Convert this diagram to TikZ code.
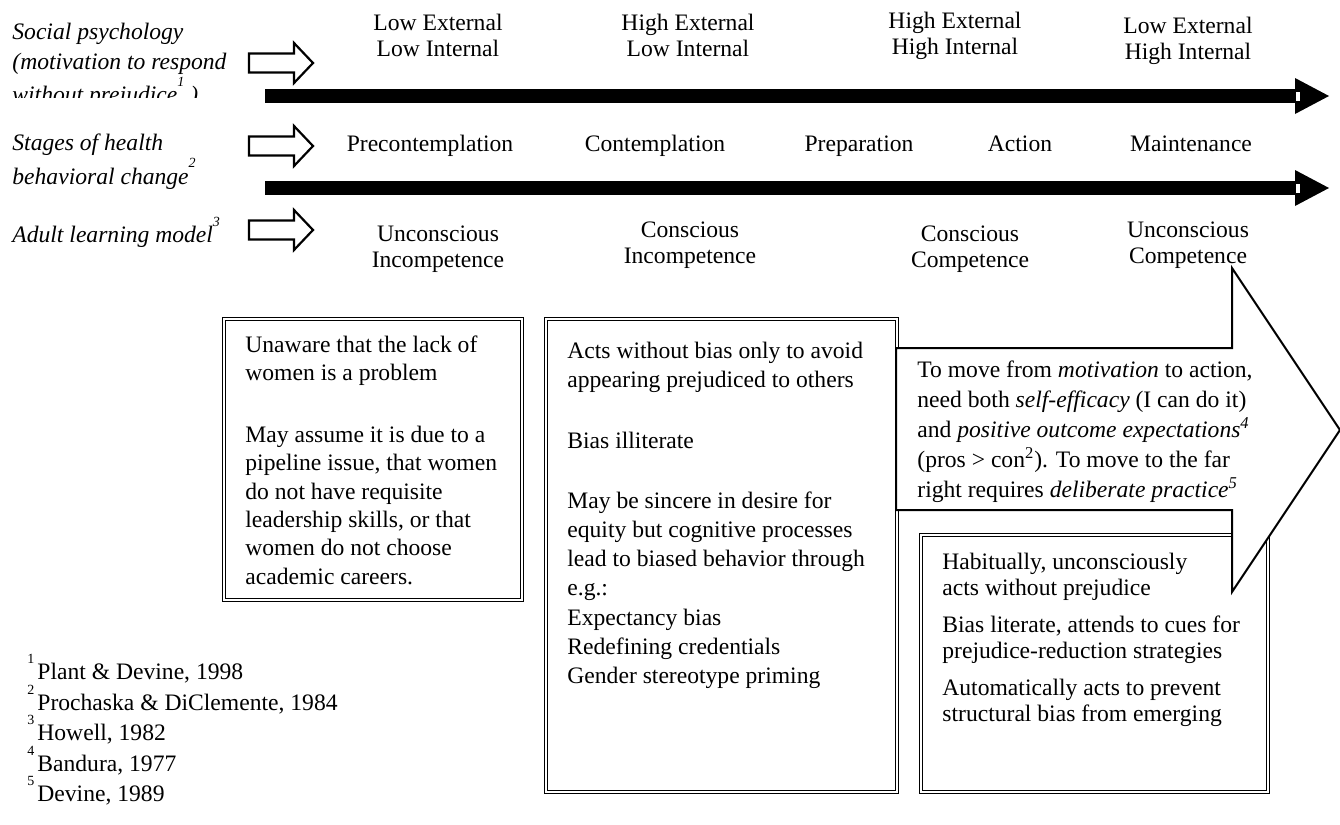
\documentclass[tikz,border=0pt]{standalone}
\usepackage{fontspec}
\setmainfont{Liberation Serif}
\usepackage{tikz}

\newcommand{\fnmark}[1]{\smash{\raisebox{1.5ex}{\scriptsize #1}}}

\begin{document}
\begin{tikzpicture}[x=0.5pt, y=-0.5pt,
    every node/.style={inner sep=0pt, font=\fontsize{11.8}{13}\selectfont},
    stage/.style={align=center, anchor=north},
    onestage/.style={anchor=base},
    modelname/.style={align=left, anchor=north west, font=\fontsize{11.8}{15}\selectfont\itshape},
    boxtext/.style={align=left, anchor=north west},
    dblbox/.style={draw, double, double distance=1pt, line width=0.7pt},
    openarrow/.style={draw, line width=1.1pt, fill=white, line join=miter},
    bigarrow/.style={draw, line width=1pt, fill=white, line join=miter}]
    \useasboundingbox (0,0) rectangle (1340,825);

    % Model names
    \begin{scope}
        \clip (0,0) rectangle (262,97);
        \node[modelname] (social) at (12,23) {Social psychology\\(motivation to respond\\[1.5pt]without prejudice\fnmark{1} )};
    \end{scope}
    \node[modelname] (health) at (12,133) {Stages of health\\[2pt]behavioral change\fnmark{2}};
    \node[modelname] (adult) at (12,226) {Adult learning model\fnmark{3}};

    % Social psychology row
    \node[stage] (lolo) at (438,14) {Low External\\Low Internal};
    \node[stage] (hilo) at (688,14) {High External\\Low Internal};
    \node[stage] (hihi) at (955,12) {High External\\High Internal};
    \node[stage] (lohi) at (1188,17) {Low External\\High Internal};

    % Health behavior row
    \node[onestage] (precon) at (430,151) {Precontemplation};
    \node[onestage] (contem) at (655,151) {Contemplation};
    \node[onestage] (prep) at (859,151) {Preparation};
    \node[onestage] (action) at (1020,151) {Action};
    \node[onestage] (maint) at (1191,151) {Maintenance};

    % Learning row
    \node[stage] (uninc) at (438,225) {Unconscious\\Incompetence};
    \node[stage] (coninc) at (690,221) {Conscious\\Incompetence};
    \node[stage] (concom) at (970,225) {Conscious\\Competence};
    \node[stage] (uncom) at (1188,221) {Unconscious\\Competence};

    % Open arrows
    \foreach \y in {63,146,230}
        \draw[openarrow] (249,\y-9.5) -- (294,\y-9.5) -- (294,\y-20) -- (313,\y)
            -- (294,\y+20) -- (294,\y+9.5) -- (249,\y+9.5) -- cycle;

    % Time lines
    \foreach \y in {96,188} {
        \fill (265,\y-7) rectangle (1295,\y+7);
        \fill (1295,\y-18) -- (1329,\y) -- (1295,\y+18) -- cycle;
        \filldraw[fill=white, line width=0.4pt] (1295,\y-5) rectangle (1300,\y+5);
    }

    % Boxes
    \draw[dblbox] (224,319) rectangle (522,600);
    \draw[dblbox] (546,319) rectangle (897,792);
    \draw[dblbox] (921,535) rectangle (1268,792);
    \draw[bigarrow] (896,348) -- (1232,348) -- (1232,268) -- (1340,430)
        -- (1232,592) -- (1232,510) -- (896,510) -- cycle;

    % Box texts
    \node[boxtext, font=\fontsize{11.8}{14.15}\selectfont] (unaware) at (245,335)
        {Unaware that the lack of\\women is a problem\\[17pt]
         May assume it is due to a\\pipeline issue, that women\\do not have requisite\\
         leadership skills, or that\\women do not choose\\academic careers.};
    \node[boxtext, font=\fontsize{11.8}{14.6}\selectfont] (aware) at (567,342)
        {Acts without bias only to avoid\\appearing prejudiced to others\\[15.5pt]
         Bias illiterate\\[15.5pt]
         May be sincere in desire for\\equity but cognitive processes\\lead to biased behavior through\\
         e.g.:\\Expectancy bias\\Redefining credentials\\Gender stereotype priming};
    \node[boxtext, font=\fontsize{11.8}{15}\selectfont] (move) at (917,360)
        {To move from \textit{motivation} to action,\\need both \textit{self-efficacy} (I can do it)\\
         and \textit{positive outcome expectations\textsuperscript{4}}\\
         (pros > con\textsuperscript{2}). To move to the far\\
         right requires \textit{deliberate practice\textsuperscript{5}}};
    \node[boxtext, font=\fontsize{11.8}{12.75}\selectfont] (habit) at (942,553)
        {Habitually, unconsciously\\acts without prejudice\\[6pt]
         Bias literate, attends to cues for\\prejudice-reduction strategies\\[6pt]
         Automatically acts to prevent\\structural bias from emerging};

    % References
    \node[boxtext, font=\fontsize{11.8}{15.25}\selectfont] (refs) at (27,663)
        {\fnmark{1}\kern1.5pt Plant \& Devine, 1998\\
         \fnmark{2}\kern1.5pt Prochaska \& DiClemente, 1984\\
         \fnmark{3}\kern1.5pt Howell, 1982\\
         \fnmark{4}\kern1.5pt Bandura, 1977\\
         \fnmark{5}\kern1.5pt Devine, 1989};
\end{tikzpicture}
\end{document}
